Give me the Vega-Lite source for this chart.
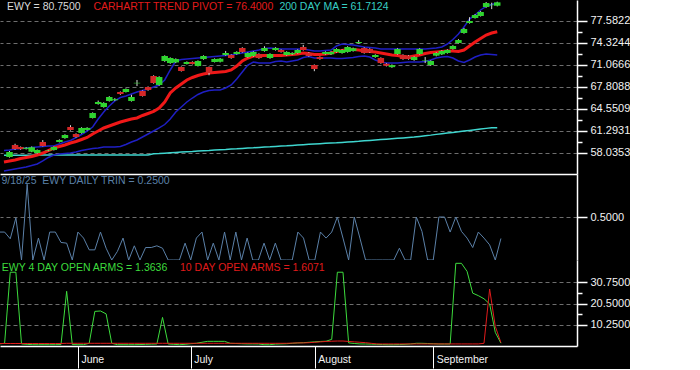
{
  "$schema": "https://vega.github.io/schema/vega-lite/v6.json",
  "background": "#000000",
  "padding": 0,
  "spacing": 0,
  "config": {
    "view": {"stroke": null},
    "font": "Liberation Sans",
    "axis": {
      "labelFont": "Liberation Sans",
      "labelColor": "#f2f2f2",
      "labelFontSize": 11,
      "labelOverlap": false,
      "domainColor": "#ffffff",
      "domainWidth": 1.5,
      "tickColor": "#ffffff",
      "tickWidth": 1.5,
      "gridColor": "#6e6e6e",
      "gridDash": [4, 3],
      "gridWidth": 1
    },
    "text": {"font": "Liberation Sans", "fontSize": 10.5, "align": "left", "baseline": "middle"}
  },
  "datasets": {
    "d": [
      {"i": -1, "piv": 56.65, "up": 58.35, "lo": 55.31, "ma": 57.66, "trin": 0.325, "g": 1.0, "r": 1.2},
      {"i": 0, "o": 57.39, "c": 58.13, "h": 58.28, "l": 57.30, "piv": 56.80, "up": 58.43, "lo": 55.46, "ma": 57.66, "trin": 0.325, "g": 1.3, "r": 1.2},
      {"i": 1, "o": 59.17, "c": 58.57, "h": 59.35, "l": 58.45, "piv": 56.94, "up": 58.57, "lo": 55.61, "ma": 57.66, "trin": 0.247, "g": 35.6, "r": 1.2},
      {"i": 2, "o": 58.87, "c": 58.55, "h": 58.95, "l": 58.45, "piv": 57.17, "up": 58.65, "lo": 55.76, "ma": 57.66, "trin": 0.49, "g": 35.6, "r": 1.2},
      {"i": 3, "o": 58.60, "c": 58.75, "h": 58.85, "l": 58.50, "piv": 57.32, "up": 58.72, "lo": 55.91, "ma": 57.66, "trin": 0.0, "g": 1.0, "r": 1.2},
      {"i": 4, "o": 58.18, "c": 58.83, "h": 58.95, "l": 58.10, "piv": 57.46, "up": 58.80, "lo": 56.13, "ma": 57.66, "trin": 0.88, "g": 0.8, "r": 1.2},
      {"i": 5, "o": 57.98, "c": 58.43, "h": 58.50, "l": 57.90, "piv": 57.69, "up": 58.87, "lo": 56.35, "ma": 57.67, "trin": 0.0, "g": 0.63, "r": 1.2},
      {"i": 6, "o": 59.61, "c": 59.02, "h": 59.90, "l": 58.95, "piv": 57.98, "up": 58.95, "lo": 56.80, "ma": 57.67, "trin": 0.255, "g": 0.63, "r": 1.2},
      {"i": 7, "o": 58.30, "c": 58.38, "h": 58.45, "l": 58.25, "piv": 58.35, "up": 59.02, "lo": 57.32, "ma": 57.67, "trin": 0.0, "g": 0.63, "r": 1.2},
      {"i": 8, "o": 58.43, "c": 58.87, "h": 58.95, "l": 58.35, "piv": 58.72, "up": 59.02, "lo": 57.69, "ma": 57.67, "trin": 0.325, "g": 0.63, "r": 1.2},
      {"i": 9, "o": 59.61, "c": 59.91, "h": 60.00, "l": 59.55, "piv": 58.95, "up": 59.32, "lo": 57.83, "ma": 57.67, "trin": 0.325, "g": 0.63, "r": 1.2},
      {"i": 10, "o": 60.20, "c": 60.65, "h": 60.75, "l": 60.10, "piv": 59.17, "up": 59.61, "lo": 57.91, "ma": 57.67, "trin": 0.204, "g": 0.7, "r": 1.2},
      {"i": 11, "o": 61.83, "c": 61.39, "h": 62.10, "l": 61.30, "piv": 59.46, "up": 59.83, "lo": 57.98, "ma": 57.68, "trin": 0.196, "g": 26.4, "r": 1.3},
      {"i": 12, "o": 60.80, "c": 60.35, "h": 60.90, "l": 60.25, "piv": 59.69, "up": 60.28, "lo": 58.13, "ma": 57.68, "trin": 0.0, "g": 0.7, "r": 1.3},
      {"i": 13, "o": 60.95, "c": 61.69, "h": 61.80, "l": 60.85, "piv": 59.98, "up": 60.72, "lo": 58.35, "ma": 57.68, "trin": 0.325, "g": 0.63, "r": 1.3},
      {"i": 14, "o": 61.40, "c": 61.70, "h": 61.80, "l": 61.30, "piv": 60.28, "up": 61.24, "lo": 58.50, "ma": 57.68, "trin": 0.255, "g": 0.63, "r": 1.3},
      {"i": 15, "o": 63.17, "c": 63.91, "h": 64.00, "l": 63.10, "piv": 60.80, "up": 61.83, "lo": 58.65, "ma": 57.68, "trin": 0.118, "g": 1.3, "r": 1.3},
      {"i": 16, "o": 65.24, "c": 65.54, "h": 65.75, "l": 65.15, "piv": 61.24, "up": 63.02, "lo": 58.72, "ma": 57.68, "trin": 0.118, "g": 16.7, "r": 1.3},
      {"i": 17, "o": 64.80, "c": 65.39, "h": 65.50, "l": 64.70, "piv": 61.69, "up": 64.06, "lo": 58.87, "ma": 57.69, "trin": 0.325, "g": 16.9, "r": 1.3},
      {"i": 18, "o": 65.69, "c": 66.28, "h": 66.40, "l": 65.60, "piv": 61.98, "up": 64.95, "lo": 58.87, "ma": 57.69, "trin": 0.137, "g": 15.5, "r": 1.3},
      {"i": 19, "o": 65.80, "c": 65.95, "h": 66.10, "l": 65.70, "piv": 62.28, "up": 65.69, "lo": 58.87, "ma": 57.69, "trin": 0.0, "g": 1.3, "r": 1.3},
      {"i": 20, "o": 67.02, "c": 66.72, "h": 67.10, "l": 66.60, "piv": 62.57, "up": 66.20, "lo": 58.95, "ma": 57.69, "trin": 0.1, "g": 0.63, "r": 1.3},
      {"i": 21, "o": 67.02, "c": 67.46, "h": 67.55, "l": 66.95, "piv": 62.80, "up": 66.43, "lo": 59.24, "ma": 57.69, "trin": 0.255, "g": 0.63, "r": 1.3},
      {"i": 22, "o": 65.69, "c": 66.28, "h": 66.60, "l": 65.60, "piv": 63.02, "up": 66.72, "lo": 59.61, "ma": 57.69, "trin": 0.0, "g": 0.63, "r": 1.3},
      {"i": 23, "o": 68.30, "c": 68.38, "h": 68.80, "l": 67.90, "piv": 63.17, "up": 67.02, "lo": 59.91, "ma": 57.70, "trin": 0.165, "g": 0.63, "r": 1.3},
      {"i": 24, "o": 67.17, "c": 66.43, "h": 67.25, "l": 66.35, "piv": 63.54, "up": 67.24, "lo": 60.35, "ma": 57.70, "trin": 0.0, "g": 0.7, "r": 1.3},
      {"i": 25, "o": 67.76, "c": 67.32, "h": 67.85, "l": 67.20, "piv": 63.83, "up": 67.46, "lo": 60.80, "ma": 57.70, "trin": 0.145, "g": 0.8, "r": 1.3},
      {"i": 26, "o": 69.39, "c": 68.35, "h": 69.50, "l": 68.25, "piv": 64.13, "up": 67.76, "lo": 61.24, "ma": 57.86, "trin": 0.145, "g": 0.9, "r": 1.3},
      {"i": 27, "o": 68.06, "c": 69.24, "h": 69.35, "l": 67.95, "piv": 64.65, "up": 68.06, "lo": 61.69, "ma": 57.90, "trin": 0.165, "g": 0.97, "r": 1.3},
      {"i": 28, "o": 71.61, "c": 72.35, "h": 72.45, "l": 71.50, "piv": 65.54, "up": 68.80, "lo": 62.20, "ma": 57.96, "trin": 0.137, "g": 13.8, "r": 1.3},
      {"i": 29, "o": 71.31, "c": 72.06, "h": 72.15, "l": 71.20, "piv": 66.87, "up": 70.28, "lo": 63.02, "ma": 58.01, "trin": 0.0, "g": 0.97, "r": 1.3},
      {"i": 30, "o": 71.40, "c": 71.90, "h": 72.00, "l": 71.30, "piv": 67.61, "up": 71.61, "lo": 64.06, "ma": 58.06, "trin": 0.0, "g": 0.8, "r": 1.3},
      {"i": 31, "o": 70.72, "c": 70.13, "h": 70.80, "l": 70.05, "piv": 68.21, "up": 71.83, "lo": 64.80, "ma": 58.12, "trin": 0.0, "g": 0.63, "r": 1.3},
      {"i": 32, "o": 71.17, "c": 71.46, "h": 71.55, "l": 71.10, "piv": 68.80, "up": 71.91, "lo": 65.54, "ma": 58.16, "trin": 0.196, "g": 0.8, "r": 1.3},
      {"i": 33, "o": 71.46, "c": 71.17, "h": 71.55, "l": 71.10, "piv": 69.17, "up": 71.98, "lo": 66.13, "ma": 58.20, "trin": 0.0, "g": 1.1, "r": 1.3},
      {"i": 34, "o": 70.87, "c": 71.61, "h": 71.70, "l": 70.80, "piv": 69.46, "up": 72.06, "lo": 66.65, "ma": 58.26, "trin": 0.255, "g": 1.3, "r": 1.3},
      {"i": 35, "o": 71.90, "c": 72.35, "h": 72.45, "l": 71.80, "piv": 69.69, "up": 72.13, "lo": 67.02, "ma": 58.31, "trin": 0.325, "g": 1.8, "r": 1.3},
      {"i": 36, "o": 70.72, "c": 69.83, "h": 70.80, "l": 69.50, "piv": 69.83, "up": 72.20, "lo": 67.24, "ma": 58.35, "trin": 0.0, "g": 2.25, "r": 1.3},
      {"i": 37, "o": 71.46, "c": 71.91, "h": 72.00, "l": 71.40, "piv": 69.91, "up": 72.28, "lo": 67.32, "ma": 58.41, "trin": 0.196, "g": 2.25, "r": 1.3},
      {"i": 38, "o": 71.50, "c": 71.95, "h": 72.05, "l": 71.40, "piv": 69.98, "up": 72.35, "lo": 67.32, "ma": 58.46, "trin": 0.0, "g": 2.25, "r": 1.3},
      {"i": 39, "o": 72.50, "c": 72.80, "h": 73.10, "l": 72.40, "piv": 70.06, "up": 72.43, "lo": 67.61, "ma": 58.50, "trin": 0.325, "g": 2.25, "r": 1.3},
      {"i": 40, "o": 72.50, "c": 72.06, "h": 72.60, "l": 71.95, "piv": 70.28, "up": 72.50, "lo": 68.06, "ma": 58.56, "trin": 0.0, "g": 1.3, "r": 1.3},
      {"i": 41, "o": 72.65, "c": 72.95, "h": 73.05, "l": 72.55, "piv": 70.87, "up": 72.65, "lo": 68.95, "ma": 58.60, "trin": 0.325, "g": 1.2, "r": 1.3},
      {"i": 42, "o": 73.54, "c": 72.95, "h": 73.65, "l": 72.85, "piv": 71.61, "up": 72.80, "lo": 69.98, "ma": 58.66, "trin": 0.0, "g": 1.1, "r": 1.3},
      {"i": 43, "o": 72.20, "c": 72.80, "h": 72.90, "l": 72.10, "piv": 72.06, "up": 72.95, "lo": 71.02, "ma": 58.71, "trin": 0.255, "g": 1.0, "r": 1.3},
      {"i": 44, "o": 72.35, "c": 72.95, "h": 73.05, "l": 72.25, "piv": 72.35, "up": 73.09, "lo": 71.46, "ma": 58.75, "trin": 0.0, "g": 1.0, "r": 1.3},
      {"i": 45, "o": 72.65, "c": 72.06, "h": 72.75, "l": 71.95, "piv": 72.43, "up": 73.24, "lo": 71.31, "ma": 58.81, "trin": 0.0, "g": 0.97, "r": 1.3},
      {"i": 46, "o": 73.09, "c": 73.54, "h": 73.80, "l": 73.00, "piv": 72.43, "up": 73.46, "lo": 71.31, "ma": 58.86, "trin": 0.196, "g": 0.63, "r": 1.3},
      {"i": 47, "o": 72.06, "c": 72.65, "h": 72.75, "l": 71.95, "piv": 72.43, "up": 73.54, "lo": 71.31, "ma": 58.90, "trin": 0.0, "g": 0.63, "r": 1.3},
      {"i": 48, "o": 73.24, "c": 73.54, "h": 73.65, "l": 73.15, "piv": 72.43, "up": 73.46, "lo": 71.54, "ma": 58.96, "trin": 0.196, "g": 0.9, "r": 1.3},
      {"i": 49, "o": 73.24, "c": 72.95, "h": 73.35, "l": 72.85, "piv": 72.43, "up": 73.39, "lo": 71.61, "ma": 59.01, "trin": 0.0, "g": 1.0, "r": 1.3},
      {"i": 50, "o": 72.50, "c": 72.95, "h": 73.05, "l": 72.40, "piv": 72.50, "up": 73.39, "lo": 71.46, "ma": 59.05, "trin": 0.0, "g": 1.1, "r": 1.3},
      {"i": 51, "o": 72.60, "c": 72.80, "h": 72.90, "l": 72.50, "piv": 72.58, "up": 73.39, "lo": 71.61, "ma": 59.11, "trin": 0.0, "g": 1.3, "r": 1.4},
      {"i": 52, "o": 72.80, "c": 73.24, "h": 73.35, "l": 72.70, "piv": 72.65, "up": 73.39, "lo": 71.76, "ma": 59.15, "trin": 0.325, "g": 1.5, "r": 1.5},
      {"i": 53, "o": 73.69, "c": 73.24, "h": 74.00, "l": 73.15, "piv": 72.80, "up": 73.39, "lo": 72.13, "ma": 59.20, "trin": 0.255, "g": 1.6, "r": 1.5},
      {"i": 54, "o": 72.80, "c": 72.35, "h": 72.90, "l": 72.25, "piv": 72.72, "up": 73.24, "lo": 72.28, "ma": 59.26, "trin": 0.0, "g": 1.8, "r": 1.6},
      {"i": 55, "o": 71.02, "c": 70.43, "h": 71.10, "l": 70.10, "piv": 72.58, "up": 73.09, "lo": 72.06, "ma": 59.30, "trin": 0.0, "g": 2.0, "r": 1.8},
      {"i": 56, "o": 72.20, "c": 71.91, "h": 72.30, "l": 71.80, "piv": 72.58, "up": 73.09, "lo": 72.06, "ma": 59.35, "trin": 0.325, "g": 2.2, "r": 2.0},
      {"i": 57, "o": 72.65, "c": 72.95, "h": 73.05, "l": 72.55, "piv": 72.65, "up": 73.17, "lo": 72.06, "ma": 59.41, "trin": 0.255, "g": 2.3, "r": 2.2},
      {"i": 58, "o": 72.60, "c": 72.95, "h": 73.05, "l": 72.50, "piv": 72.80, "up": 73.24, "lo": 72.06, "ma": 59.45, "trin": 0.325, "g": 3.2, "r": 2.3},
      {"i": 59, "o": 72.95, "c": 73.39, "h": 73.50, "l": 72.85, "piv": 73.02, "up": 73.83, "lo": 71.98, "ma": 59.49, "trin": 0.5, "g": 35.6, "r": 2.4},
      {"i": 60, "o": 72.80, "c": 73.24, "h": 73.35, "l": 72.70, "piv": 73.17, "up": 74.13, "lo": 71.98, "ma": 59.55, "trin": 0.255, "g": 35.6, "r": 2.4},
      {"i": 61, "o": 72.95, "c": 73.69, "h": 73.80, "l": 72.85, "piv": 73.32, "up": 74.06, "lo": 72.06, "ma": 59.61, "trin": 0.0, "g": 1.5, "r": 2.2},
      {"i": 62, "o": 73.10, "c": 73.50, "h": 73.60, "l": 73.00, "piv": 73.32, "up": 73.98, "lo": 72.13, "ma": 59.66, "trin": 0.5, "g": 1.2, "r": 2.0},
      {"i": 63, "o": 74.28, "c": 74.43, "h": 74.70, "l": 74.20, "piv": 73.24, "up": 73.83, "lo": 72.28, "ma": 59.71, "trin": 0.255, "g": 1.0, "r": 1.8},
      {"i": 64, "o": 73.54, "c": 72.80, "h": 73.65, "l": 72.70, "piv": 73.09, "up": 73.69, "lo": 72.35, "ma": 59.79, "trin": 0.0, "g": 0.97, "r": 1.6},
      {"i": 65, "o": 73.40, "c": 72.90, "h": 73.50, "l": 72.80, "piv": 73.02, "up": 73.61, "lo": 72.20, "ma": 59.85, "trin": 0.0, "g": 0.9, "r": 1.3},
      {"i": 66, "o": 72.20, "c": 72.50, "h": 72.60, "l": 72.10, "piv": 72.95, "up": 73.54, "lo": 71.76, "ma": 59.91, "trin": 0.0, "g": 0.8, "r": 1.0},
      {"i": 67, "o": 72.06, "c": 71.31, "h": 72.15, "l": 71.20, "piv": 72.80, "up": 73.39, "lo": 71.46, "ma": 59.97, "trin": 0.0, "g": 0.7, "r": 1.0},
      {"i": 68, "o": 71.20, "c": 70.90, "h": 71.30, "l": 70.80, "piv": 72.65, "up": 73.39, "lo": 71.31, "ma": 60.03, "trin": 0.0, "g": 0.63, "r": 1.0},
      {"i": 69, "o": 70.70, "c": 71.00, "h": 71.10, "l": 70.60, "piv": 72.50, "up": 73.39, "lo": 71.31, "ma": 60.10, "trin": 0.0, "g": 0.63, "r": 1.0},
      {"i": 70, "o": 72.65, "c": 73.39, "h": 73.50, "l": 72.55, "piv": 72.43, "up": 73.39, "lo": 71.31, "ma": 60.16, "trin": 0.137, "g": 0.7, "r": 1.0},
      {"i": 71, "o": 72.50, "c": 71.91, "h": 72.60, "l": 71.80, "piv": 72.28, "up": 73.39, "lo": 71.39, "ma": 60.22, "trin": 0.0, "g": 0.8, "r": 1.0},
      {"i": 72, "o": 72.40, "c": 71.90, "h": 72.50, "l": 71.80, "piv": 72.20, "up": 73.39, "lo": 71.46, "ma": 60.28, "trin": 0.0, "g": 1.0, "r": 1.0},
      {"i": 73, "o": 71.76, "c": 72.20, "h": 72.30, "l": 71.65, "piv": 72.35, "up": 73.39, "lo": 71.46, "ma": 60.35, "trin": 0.5, "g": 1.3, "r": 1.0},
      {"i": 74, "o": 72.65, "c": 73.39, "h": 73.50, "l": 72.55, "piv": 72.50, "up": 73.39, "lo": 71.46, "ma": 60.44, "trin": 0.333, "g": 1.3, "r": 1.0},
      {"i": 75, "o": 71.68, "c": 71.75, "h": 72.20, "l": 71.30, "piv": 72.72, "up": 73.39, "lo": 71.54, "ma": 60.54, "trin": 0.0, "g": 1.2, "r": 1.0},
      {"i": 76, "o": 71.02, "c": 71.61, "h": 71.70, "l": 70.90, "piv": 72.87, "up": 73.46, "lo": 71.76, "ma": 60.63, "trin": 0.0, "g": 1.1, "r": 1.0},
      {"i": 77, "o": 72.40, "c": 72.80, "h": 72.90, "l": 72.30, "piv": 72.95, "up": 73.54, "lo": 72.06, "ma": 60.74, "trin": 0.5, "g": 0.97, "r": 1.0},
      {"i": 78, "o": 72.60, "c": 73.10, "h": 73.20, "l": 72.50, "piv": 73.02, "up": 73.69, "lo": 72.20, "ma": 60.83, "trin": 0.5, "g": 0.97, "r": 1.0},
      {"i": 79, "o": 72.80, "c": 73.24, "h": 73.35, "l": 72.70, "piv": 73.09, "up": 74.13, "lo": 72.28, "ma": 60.93, "trin": 0.325, "g": 0.97, "r": 1.0},
      {"i": 80, "o": 73.39, "c": 73.83, "h": 73.95, "l": 73.30, "piv": 73.09, "up": 74.80, "lo": 72.06, "ma": 61.03, "trin": 0.5, "g": 39.9, "r": 1.0},
      {"i": 81, "o": 74.28, "c": 74.72, "h": 74.85, "l": 74.20, "piv": 73.02, "up": 75.61, "lo": 71.61, "ma": 61.12, "trin": 0.333, "g": 39.9, "r": 1.0},
      {"i": 82, "o": 75.76, "c": 76.35, "h": 76.50, "l": 75.65, "piv": 73.24, "up": 76.65, "lo": 71.39, "ma": 61.23, "trin": 0.255, "g": 36.0, "r": 1.0},
      {"i": 83, "o": 77.24, "c": 77.54, "h": 78.10, "l": 77.15, "piv": 73.83, "up": 77.83, "lo": 71.76, "ma": 61.33, "trin": 0.145, "g": 25.5, "r": 1.0},
      {"i": 84, "o": 77.98, "c": 78.43, "h": 78.55, "l": 77.90, "piv": 74.43, "up": 78.43, "lo": 72.20, "ma": 61.42, "trin": 0.325, "g": 24.3, "r": 1.0},
      {"i": 85, "o": 78.28, "c": 78.87, "h": 79.00, "l": 78.20, "piv": 74.95, "up": 79.17, "lo": 72.50, "ma": 61.52, "trin": 0.255, "g": 22.8, "r": 1.3},
      {"i": 86, "o": 79.61, "c": 80.20, "h": 80.35, "l": 79.50, "piv": 75.46, "up": 79.69, "lo": 72.65, "ma": 61.63, "trin": 0.176, "g": 20.3, "r": 27.5},
      {"i": 87, "o": 79.88, "c": 79.95, "h": 80.25, "l": 79.30, "piv": 75.76, "up": 79.98, "lo": 72.58, "ma": 61.72, "trin": 0.0, "g": 6.6, "r": 9.5},
      {"i": 88, "o": 79.80, "c": 80.30, "h": 80.40, "l": 79.70, "piv": 75.95, "up": 80.20, "lo": 72.50, "ma": 61.71, "trin": 0.25, "g": 1.3636, "r": 1.6071}
    ]
  },
  "vconcat": [
    {
      "width": 577,
      "height": 174,
      "data": {"name": "d"},
      "encoding": {
        "x": {
          "field": "i", "type": "quantitative", "title": null,
          "scale": {"domain": [-0.816, 101.49], "nice": false, "zero": false},
          "axis": {"orient": "bottom", "ticks": false, "labels": false, "grid": false, "domain": true}
        }
      },
      "layer": [
        {
          "mark": {"type": "line", "color": "#3fd6cf", "strokeWidth": 1.5, "clip": true},
          "encoding": {
            "y": {
              "field": "ma", "type": "quantitative", "title": null,
              "scale": {"domain": [54.87, 80.649], "nice": false, "zero": false},
              "axis": {
                "orient": "right",
                "values": [58.0353, 59.6642, 61.2931, 62.922, 64.5509, 66.17985, 67.8088, 69.4377, 71.0666, 72.6955, 74.3244, 75.9533, 77.5822],
                "tickCount": 50,
                "labelExpr": "round((datum.value-58.0353)/1.62891)%2==1 ? '' : format(datum.value, '.4f')",
                "tickSize": {"condition": {"test": "round((datum.value-58.0353)/1.62891)%2==1", "value": 5}, "value": 10},
                "gridOpacity": {"condition": {"test": "round((datum.value-58.0353)/1.62891)%2==1", "value": 0}, "value": 1},
                "grid": true,
                "labelOverlap": false,
                "labelPadding": 3
              }
            }
          }
        },
        {
          "mark": {"type": "line", "color": "#1f1fc4", "strokeWidth": 1.5, "clip": true},
          "encoding": {"y": {"field": "up", "type": "quantitative", "title": null}}
        },
        {
          "mark": {"type": "line", "color": "#1f1fc4", "strokeWidth": 1.5, "clip": true},
          "encoding": {"y": {"field": "lo", "type": "quantitative", "title": null}}
        },
        {
          "mark": {"type": "line", "color": "#f01818", "strokeWidth": 3, "clip": true},
          "encoding": {"y": {"field": "piv", "type": "quantitative", "title": null}}
        },
        {
          "mark": {"type": "rule", "color": "#d8d8d8", "strokeWidth": 1},
          "encoding": {"y": {"field": "l", "type": "quantitative", "title": null}, "y2": {"field": "h"}}
        },
        {
          "mark": {"type": "bar", "width": 6.5},
          "encoding": {
            "y": {"field": "o", "type": "quantitative", "title": null},
            "y2": {"field": "c"},
            "color": {"condition": {"test": "datum.c >= datum.o", "value": "#2fd42f"}, "value": "#d42828"}
          }
        },
        {
          "data": {"values": [{"t": "EWY = 80.7500", "i": -0.46, "v": 79.54}]},
          "mark": {"type": "text", "color": "#dadada"},
          "encoding": {"y": {"field": "v", "type": "quantitative", "title": null}, "text": {"field": "t"}}
        },
        {
          "data": {"values": [{"t": "CARHARTT TREND PIVOT = 76.4000", "i": 15.14, "v": 79.54}]},
          "mark": {"type": "text", "color": "#e31b1b"},
          "encoding": {"y": {"field": "v", "type": "quantitative", "title": null}, "text": {"field": "t"}}
        },
        {
          "data": {"values": [{"t": "200 DAY MA = 61.7124", "i": 48.7, "v": 79.54}]},
          "mark": {"type": "text", "color": "#37cfc4"},
          "encoding": {"y": {"field": "v", "type": "quantitative", "title": null}, "text": {"field": "t"}}
        }
      ]
    },
    {
      "width": 577,
      "height": 86,
      "data": {"name": "d"},
      "encoding": {
        "x": {
          "field": "i", "type": "quantitative", "title": null,
          "scale": {"domain": [-0.816, 101.49], "nice": false, "zero": false},
          "axis": null
        }
      },
      "layer": [
        {
          "mark": {"type": "line", "color": "#5b80a8", "strokeWidth": 1, "clip": true},
          "encoding": {
            "y": {
              "field": "trin", "type": "quantitative", "title": null,
              "scale": {"domain": [0, 1], "nice": false, "zero": false},
              "axis": {"orient": "right", "values": [0.5], "format": ".4f", "tickSize": 10, "grid": true, "labelPadding": 3}
            }
          }
        },
        {
          "data": {"values": [{"t": "9/18/25\u00a0 EWY DAILY TRIN = 0.2500", "i": -0.55, "v": 0.915}]},
          "mark": {"type": "text", "color": "#5b80a8"},
          "encoding": {"y": {"field": "v", "type": "quantitative", "title": null}, "text": {"field": "t"}}
        }
      ]
    },
    {
      "width": 577,
      "height": 86,
      "data": {"name": "d"},
      "encoding": {
        "x": {
          "field": "i", "type": "quantitative", "title": null,
          "scale": {"domain": [-0.816, 101.49], "nice": false, "zero": false},
          "axis": {
            "orient": "bottom",
            "values": [13, 33, 55, 76],
            "tickCount": 50,
            "labelExpr": "datum.value == 13 ? 'June' : datum.value == 33 ? 'July' : datum.value == 55 ? 'August' : 'September'",
            "tickSize": 22,
            "tickWidth": 1,
            "grid": false,
            "labelAlign": "left",
            "labelBaseline": "middle",
            "labelPadding": -9,
            "labelOffset": 3,
            "labelFontSize": 10.5,
            "labelFlush": false,
            "labelOverlap": false
          }
        }
      },
      "layer": [
        {
          "mark": {"type": "line", "color": "#3ddc3d", "strokeWidth": 1, "clip": true},
          "encoding": {
            "y": {
              "field": "g", "type": "quantitative", "title": null,
              "scale": {"domain": [0, 41.5], "nice": false, "zero": false},
              "axis": {
                "orient": "right",
                "values": [10.25, 15.375, 20.5, 25.625, 30.75],
                "tickCount": 50,
                "labelExpr": "round(datum.value/5.125)%2==1 ? '' : format(datum.value, '.4f')",
                "tickSize": {"condition": {"test": "round(datum.value/5.125)%2==1", "value": 5}, "value": 10},
                "gridOpacity": {"condition": {"test": "round(datum.value/5.125)%2==1", "value": 0}, "value": 1},
                "grid": true,
                "labelOverlap": false,
                "labelPadding": 3
              }
            }
          }
        },
        {
          "mark": {"type": "line", "color": "#e01b1b", "strokeWidth": 1, "clip": true},
          "encoding": {"y": {"field": "r", "type": "quantitative", "title": null}}
        },
        {
          "data": {"values": [{"t": "EWY 4 DAY OPEN ARMS = 1.3636", "i": -0.5, "v": 37.6}]},
          "mark": {"type": "text", "color": "#3ddc3d"},
          "encoding": {"y": {"field": "v", "type": "quantitative", "title": null}, "text": {"field": "t"}}
        },
        {
          "data": {"values": [{"t": "10 DAY OPEN ARMS = 1.6071", "i": 31.1, "v": 37.6}]},
          "mark": {"type": "text", "color": "#e01b1b"},
          "encoding": {"y": {"field": "v", "type": "quantitative", "title": null}, "text": {"field": "t"}}
        }
      ]
    }
  ]
}
